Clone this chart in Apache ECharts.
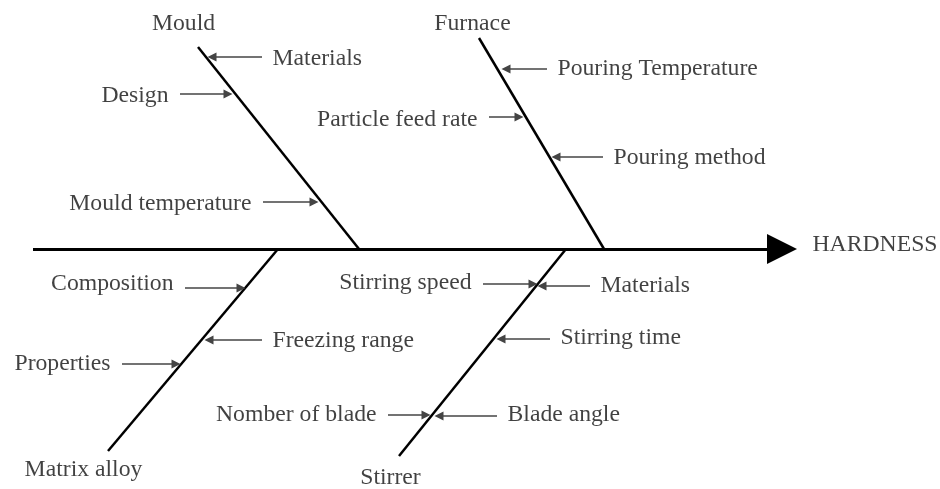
<!DOCTYPE html>
<html>
<head>
<meta charset="utf-8">
<script src="https://cdn.jsdelivr.net/npm/echarts@6/dist/echarts.min.js"></script>
<style>
  html, body { margin: 0; padding: 0; background: #fff; }
  #chart { width: 940px; height: 489px; }
</style>
</head>
<body>
<div id="chart"></div>
<script>
// spine of the fishbone (x from, x to, y), effect at the arrow tip
var spine = [33, 797, 249];
var effect = ['HARDNESS', 813, 245];

// main bones: outer end and root on the spine
var boneNames = ['Mould', 'Furnace', 'Matrix alloy', 'Stirrer'];
var boneOuter = [[198, 47], [479, 38], [108, 451], [399, 456]];
var boneRoot = [[359, 249], [604, 249], [278, 249], [566, 249]];
var boneLabel = [[184, 24], [473, 24], [84, 470], [391, 478]];

// causes: arrow tail x, arrow head x, arrow y, text y
var causeNames = ['Materials', 'Design', 'Mould temperature',
    'Pouring Temperature', 'Particle feed rate', 'Pouring method',
    'Composition', 'Freezing range', 'Properties',
    'Stirring speed', 'Materials', 'Stirring time', 'Nomber of blade', 'Blade angle'];
var causeTail = [262, 180, 263, 547, 489, 603, 185, 262, 122, 483, 590, 550, 388, 497];
var causeHead = [208, 232, 318, 502, 523, 552, 245, 205, 180, 537, 538, 497, 430, 435];
var causeY = [57, 94, 202, 69, 117, 157, 288, 340, 364, 284, 286, 339, 415, 416];
var causeTextY = [59, 96, 204, 69, 120, 158, 284, 341, 364, 283, 286, 338, 415, 415];

var myChart = echarts.init(document.getElementById('chart'));

var boneLines = boneNames.map(function (n, i) {
    return { coords: [boneOuter[i], boneRoot[i]] };
});

var causeLines = causeNames.map(function (n, i) {
    var dir = causeHead[i] > causeTail[i] ? 1 : -1;
    // symbol is centered on the end point, pull it back so the tip sits on the head
    return { coords: [[causeTail[i], causeY[i]], [causeHead[i] - dir * 4, causeY[i]]] };
});

var texts = [];
boneNames.forEach(function (n, i) {
    texts.push({ name: n, value: boneLabel[i], label: { align: 'center' } });
});
causeNames.forEach(function (n, i) {
    var dir = causeHead[i] > causeTail[i] ? 1 : -1;
    texts.push({
        name: n,
        value: [causeTail[i] - dir * 11, causeTextY[i]],
        label: { align: dir > 0 ? 'right' : 'left' }
    });
});
texts.push({ name: effect[0], value: [effect[1], effect[2]], label: { align: 'left' } });

var option = {
    animation: false,
    grid: { left: 0, right: 0, top: 0, bottom: 0 },
    xAxis: { type: 'value', min: 0, max: 940, show: false },
    yAxis: { type: 'value', min: 0, max: 489, inverse: true, show: false },
    series: [
        {
            name: 'spine',
            type: 'lines',
            coordinateSystem: 'cartesian2d',
            silent: true,
            symbol: ['none', 'triangle'],
            symbolSize: [17, 30],
            lineStyle: { color: '#000', width: 3, opacity: 1 },
            data: [{ coords: [[spine[0], spine[2]], [spine[1] - 15, spine[2]]] }]
        },
        {
            name: 'bones',
            type: 'lines',
            coordinateSystem: 'cartesian2d',
            silent: true,
            symbol: 'none',
            lineStyle: { color: '#000', width: 2.5, opacity: 1 },
            data: boneLines
        },
        {
            name: 'causes',
            type: 'lines',
            coordinateSystem: 'cartesian2d',
            silent: true,
            symbol: ['none', 'triangle'],
            symbolSize: [6, 9],
            lineStyle: { color: '#444', width: 1.5, opacity: 1 },
            itemStyle: { color: '#222' },
            data: causeLines
        },
        {
            name: 'texts',
            type: 'scatter',
            silent: true,
            symbolSize: 1,
            itemStyle: { color: 'rgba(0,0,0,0)' },
            label: {
                show: true,
                position: [0, 0],
                verticalAlign: 'middle',
                formatter: '{b}',
                fontFamily: 'Liberation Serif',
                fontSize: 23.7,
                color: '#111'
            },
            data: texts
        }
    ]
};

myChart.setOption(option);
</script>
</body>
</html>
